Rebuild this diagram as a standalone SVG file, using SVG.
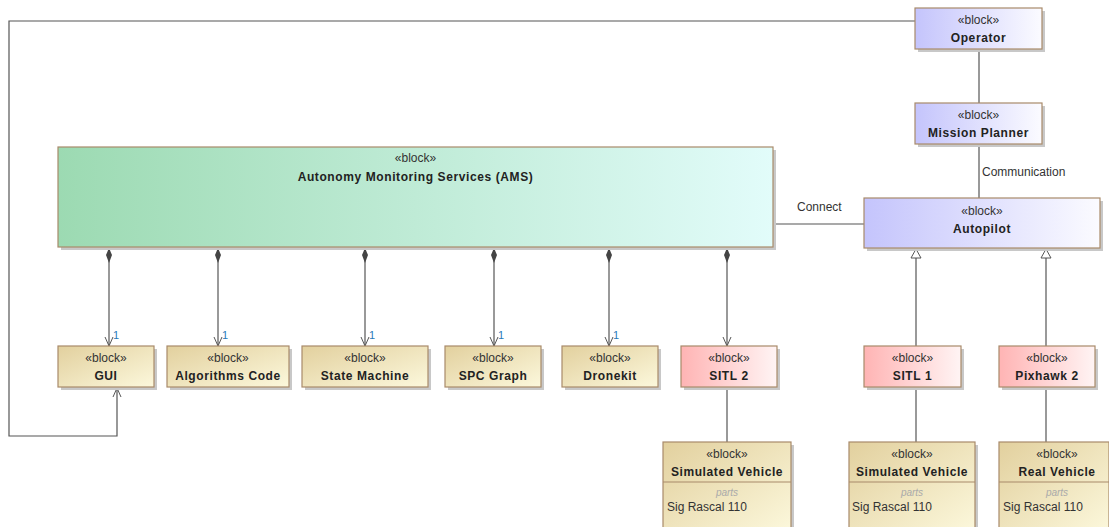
<svg xmlns="http://www.w3.org/2000/svg" width="1109" height="527" viewBox="0 0 1109 527">
<defs>
<linearGradient id="gGreen" x1="0" y1="0" x2="1" y2="0"><stop offset="0" stop-color="#9cdab2"/><stop offset="1" stop-color="#e2fcfa"/></linearGradient>
<linearGradient id="gBlue" x1="0" y1="0" x2="1" y2="0"><stop offset="0" stop-color="#c4c4fc"/><stop offset="1" stop-color="#fbfbff"/></linearGradient>
<linearGradient id="gTan" x1="0" y1="0" x2="1" y2="1"><stop offset="0" stop-color="#e2d09e"/><stop offset="1" stop-color="#fcf8dc"/></linearGradient>
<linearGradient id="gPink" x1="0" y1="0" x2="1" y2="0"><stop offset="0" stop-color="#ffb4b4"/><stop offset="1" stop-color="#fff4f4"/></linearGradient>
<marker id="open" viewBox="0 0 10 10" refX="10" refY="5" markerWidth="10" markerHeight="10" markerUnits="userSpaceOnUse" orient="auto">
<path d="M1,1 L10,5 L1,9" fill="none" stroke="#555" stroke-width="1"/></marker>
<marker id="diamond" viewBox="0 0 8 16" refX="4" refY="0" markerWidth="8" markerHeight="16" markerUnits="userSpaceOnUse" orient="0">
<path d="M4,0 L7,7 L4,15 L1,7 Z" fill="#444"/></marker>
<marker id="tri" viewBox="0 0 12 12" refX="6" refY="0" markerWidth="12" markerHeight="12" markerUnits="userSpaceOnUse" orient="0">
<path d="M6,1 L11,10 L1,10 Z" fill="#fff" stroke="#555" stroke-width="1"/></marker>
</defs>
<style>
.sh{fill:#c8c8c8}
.bx{stroke:#a88a6a;stroke-width:1.2}
.st{font-family:"Liberation Sans",Arial,sans-serif;font-size:12px;fill:#333;text-anchor:middle}
.nm{font-family:"Liberation Sans",Arial,sans-serif;font-size:12px;font-weight:bold;fill:#222;text-anchor:middle;letter-spacing:0.6px}
.pt{font-family:"Liberation Sans",Arial,sans-serif;font-size:10px;font-style:italic;fill:#aaa;text-anchor:middle}
.pv{font-family:"Liberation Sans",Arial,sans-serif;font-size:12px;fill:#333}
.lb{font-family:"Liberation Sans",Arial,sans-serif;font-size:12px;fill:#333}
.one{font-family:"Liberation Sans",Arial,sans-serif;font-size:11px;fill:#2a7ab8}
.ln{fill:none;stroke:#555;stroke-width:1.2}
</style>

<g id="connectors">
<path class="ln" d="M915,21 H9 V436 H117 V388" marker-end="url(#open)"/>
<line class="ln" x1="979" y1="49" x2="979" y2="103"/>
<line class="ln" x1="979" y1="144" x2="979" y2="198"/>
<text class="lb" x="982" y="176">Communication</text>
<line class="ln" x1="773" y1="224" x2="864" y2="224"/>
<text class="lb" x="797" y="211">Connect</text>
<line class="ln" x1="109" y1="248" x2="109" y2="346" marker-start="url(#diamond)" marker-end="url(#open)"/>
<text class="one" x="113" y="339">1</text>
<line class="ln" x1="218" y1="248" x2="218" y2="346" marker-start="url(#diamond)" marker-end="url(#open)"/>
<text class="one" x="222" y="339">1</text>
<line class="ln" x1="365" y1="248" x2="365" y2="346" marker-start="url(#diamond)" marker-end="url(#open)"/>
<text class="one" x="369" y="339">1</text>
<line class="ln" x1="494" y1="248" x2="494" y2="346" marker-start="url(#diamond)" marker-end="url(#open)"/>
<text class="one" x="498" y="339">1</text>
<line class="ln" x1="609" y1="248" x2="609" y2="346" marker-start="url(#diamond)" marker-end="url(#open)"/>
<text class="one" x="613" y="339">1</text>
<line class="ln" x1="727" y1="248" x2="727" y2="346" marker-start="url(#diamond)" marker-end="url(#open)"/>
<line class="ln" x1="916" y1="248" x2="916" y2="346" marker-start="url(#tri)"/>
<line class="ln" x1="1046" y1="248" x2="1046" y2="346" marker-start="url(#tri)"/>
<line class="ln" x1="727" y1="387" x2="727" y2="442"/>
<line class="ln" x1="916" y1="387" x2="916" y2="442"/>
<line class="ln" x1="1046" y1="387" x2="1046" y2="442"/>
</g>

<g id="operator">
<rect class="sh" x="918" y="11" width="127" height="41"/>
<rect class="bx" x="915" y="8" width="127" height="41" fill="url(#gBlue)"/>
<text class="st" x="978.5" y="24">«block»</text>
<text class="nm" x="978.5" y="42">Operator</text>
</g>
<g id="mission-planner">
<rect class="sh" x="918" y="106" width="127" height="41"/>
<rect class="bx" x="915" y="103" width="127" height="41" fill="url(#gBlue)"/>
<text class="st" x="978.5" y="119">«block»</text>
<text class="nm" x="978.5" y="137">Mission Planner</text>
</g>
<g id="ams">
<rect class="sh" x="61" y="150" width="715" height="100"/>
<rect class="bx" x="58" y="147" width="715" height="100" fill="url(#gGreen)"/>
<text class="st" x="415.5" y="162">«block»</text>
<text class="nm" x="415.5" y="181">Autonomy Monitoring Services (AMS)</text>
</g>
<g id="autopilot">
<rect class="sh" x="867" y="201" width="236" height="50"/>
<rect class="bx" x="864" y="198" width="236" height="50" fill="url(#gBlue)"/>
<text class="st" x="982" y="215">«block»</text>
<text class="nm" x="982" y="233">Autopilot</text>
</g>

<g id="gui">
<rect class="sh" x="61" y="349" width="96" height="41"/>
<rect class="bx" x="58" y="346" width="96" height="41" fill="url(#gTan)"/>
<text class="st" x="106" y="362">«block»</text>
<text class="nm" x="106" y="380">GUI</text>
</g>
<g id="algorithms-code">
<rect class="sh" x="170" y="349" width="122" height="41"/>
<rect class="bx" x="167" y="346" width="122" height="41" fill="url(#gTan)"/>
<text class="st" x="228" y="362">«block»</text>
<text class="nm" x="228" y="380">Algorithms Code</text>
</g>
<g id="state-machine">
<rect class="sh" x="305" y="349" width="126" height="41"/>
<rect class="bx" x="302" y="346" width="126" height="41" fill="url(#gTan)"/>
<text class="st" x="365" y="362">«block»</text>
<text class="nm" x="365" y="380">State Machine</text>
</g>
<g id="spc-graph">
<rect class="sh" x="448" y="349" width="96" height="41"/>
<rect class="bx" x="445" y="346" width="96" height="41" fill="url(#gTan)"/>
<text class="st" x="493" y="362">«block»</text>
<text class="nm" x="493" y="380">SPC Graph</text>
</g>
<g id="dronekit">
<rect class="sh" x="565" y="349" width="96" height="41"/>
<rect class="bx" x="562" y="346" width="96" height="41" fill="url(#gTan)"/>
<text class="st" x="610" y="362">«block»</text>
<text class="nm" x="610" y="380">Dronekit</text>
</g>
<g id="sitl-2">
<rect class="sh" x="684" y="349" width="96" height="41"/>
<rect class="bx" x="681" y="346" width="96" height="41" fill="url(#gPink)"/>
<text class="st" x="729" y="362">«block»</text>
<text class="nm" x="729" y="380">SITL 2</text>
</g>
<g id="sitl-1">
<rect class="sh" x="867" y="349" width="97" height="41"/>
<rect class="bx" x="864" y="346" width="97" height="41" fill="url(#gPink)"/>
<text class="st" x="912.5" y="362">«block»</text>
<text class="nm" x="912.5" y="380">SITL 1</text>
</g>
<g id="pixhawk-2">
<rect class="sh" x="1002" y="349" width="96" height="41"/>
<rect class="bx" x="999" y="346" width="96" height="41" fill="url(#gPink)"/>
<text class="st" x="1047" y="362">«block»</text>
<text class="nm" x="1047" y="380">Pixhawk 2</text>
</g>

<g id="simulated-vehicle-2">
<rect class="sh" x="666" y="445" width="128" height="90"/>
<rect class="bx" x="663" y="442" width="128" height="90" fill="url(#gTan)"/>
<line class="bx" x1="663" y1="482" x2="791" y2="482"/>
<text class="st" x="727" y="458">«block»</text>
<text class="nm" x="727" y="476">Simulated Vehicle</text>
<text class="pt" x="727" y="496">parts</text>
<text class="pv" x="667" y="511">Sig Rascal 110</text>
</g>
<g id="simulated-vehicle-1">
<rect class="sh" x="852" y="445" width="126" height="90"/>
<rect class="bx" x="849" y="442" width="126" height="90" fill="url(#gTan)"/>
<line class="bx" x1="849" y1="482" x2="975" y2="482"/>
<text class="st" x="912" y="458">«block»</text>
<text class="nm" x="912" y="476">Simulated Vehicle</text>
<text class="pt" x="912" y="496">parts</text>
<text class="pv" x="852" y="511">Sig Rascal 110</text>
</g>
<g id="real-vehicle">
<rect class="sh" x="1002" y="445" width="110" height="90"/>
<rect class="bx" x="999" y="442" width="110" height="90" fill="url(#gTan)"/>
<line class="bx" x1="999" y1="482" x2="1109" y2="482"/>
<text class="st" x="1057" y="458">«block»</text>
<text class="nm" x="1057" y="476">Real Vehicle</text>
<text class="pt" x="1057" y="496">parts</text>
<text class="pv" x="1003" y="511">Sig Rascal 110</text>
</g>
</svg>
